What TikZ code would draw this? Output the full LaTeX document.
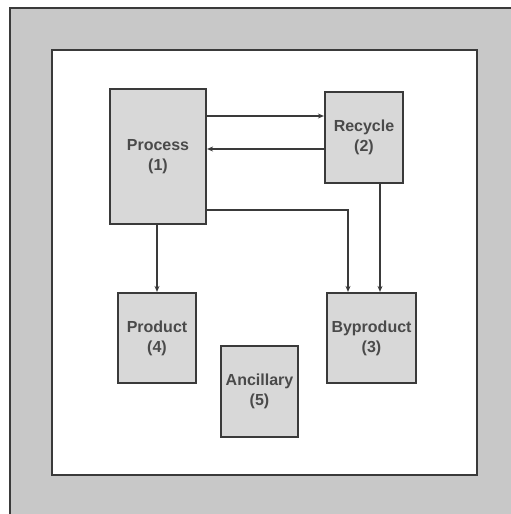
\documentclass[tikz,border=0pt]{standalone}
\usepackage{fontspec}
\setmainfont{Liberation Sans}
\usepackage{xcolor}
\usetikzlibrary{positioning}
\usetikzlibrary{arrows.meta}
\usetikzlibrary{calc}

\definecolor{framegray}{HTML}{C8C8C8}
\definecolor{boxgray}{HTML}{D8D8D8}
\definecolor{linegray}{HTML}{3A3A3A}
\definecolor{textgray}{HTML}{4A4A4A}

\begin{document}
\begin{tikzpicture}[
			x=1pt, y=-1pt,
			unit/.style = {rectangle, draw=linegray, fill=boxgray, line width=2.2pt, align=center,
					text=textgray, font=\bfseries\fontsize{16}{20}\selectfont, inner sep=0pt},
			flow/.style = {-{Stealth[length=6pt,width=5pt]}, draw=linegray, line width=1.5pt}
			]
			\useasboundingbox (0,0) rectangle (511,514);

			% frames
			\draw[fill=framegray, draw=linegray, line width=1.5pt] (10,8) rectangle (540,540);
			\draw[fill=white, draw=linegray, line width=2.2pt] (52,50) rectangle (477,475);

			% units
			\node[unit, minimum width=96pt, minimum height=135pt] (proc) at (158,156.5) {Process\\(1)};
			\node[unit, minimum width=78pt, minimum height=91pt] (rec) at (364,137.5) {Recycle\\(2)};
			\node[unit, minimum width=89pt, minimum height=90pt] (byp) at (371.5,338) {Byproduct\\(3)};
			\node[unit, minimum width=78pt, minimum height=90pt] (prod) at (157,338) {Product\\(4)};
			\node[unit, minimum width=77pt, minimum height=91pt] (anc) at (259.5,391.5) {Ancillary\\(5)};

			% flows
			\draw[flow] ($(rec.west -| proc.east)+(0,-21.5)$) -- ($(rec.west)+(0,-21.5)$);
			\draw[flow] ($(rec.west)+(0,11.5)$) -- ($(rec.west -| proc.east)+(0,11.5)$);
			\draw[flow] (proc.south -| prod.north) -- (prod.north);
			\draw[flow] ($(proc.south east)+(0,-15)$) -| ($(byp.north)+(-23.5,0)$);
			\draw[flow] ($(rec.south)+(16,0)$) coordinate (r3) -- (r3 |- byp.north);
		\end{tikzpicture}
\end{document}
